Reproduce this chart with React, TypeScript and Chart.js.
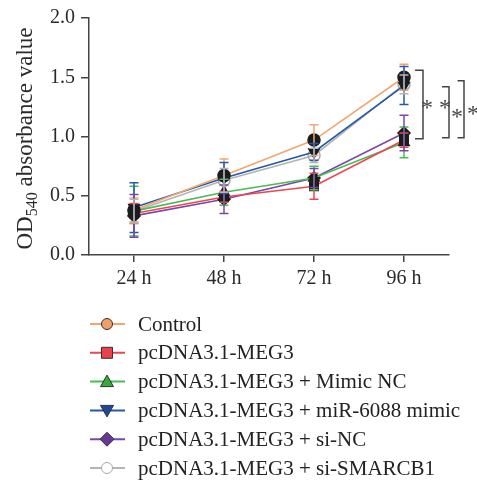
import React, { useEffect, useRef } from "react";
import { Chart, registerables } from "chart.js";

Chart.register(...registerables);

const categories = ["24 h", "48 h", "72 h", "96 h"];
const seriesNames = [
  "Control",
  "pcDNA3.1-MEG3",
  "pcDNA3.1-MEG3 + Mimic NC",
  "pcDNA3.1-MEG3 + miR-6088 mimic",
  "pcDNA3.1-MEG3 + si-NC",
  "pcDNA3.1-MEG3 + si-SMARCB1",
];
const controlValues = [0.38, 0.67, 0.97, 1.5];
const controlErr = [0.1, 0.14, 0.13, 0.11];
const meg3Values = [0.35, 0.49, 0.58, 0.97];
const meg3Err = [0.085, 0.045, 0.11, 0.06];
const mimicNcValues = [0.37, 0.53, 0.65, 0.95];
const mimicNcErr = [0.21, 0.11, 0.1, 0.13];
const mirValues = [0.4, 0.65, 0.87, 1.43];
const mirErr = [0.21, 0.13, 0.07, 0.16];
const siNcValues = [0.33, 0.47, 0.65, 1.03];
const siNcErr = [0.18, 0.12, 0.08, 0.15];
const siSmarcValues = [0.37, 0.63, 0.84, 1.44];
const siSmarcErr = [0.1, 0.1, 0.06, 0.08];
const yTicks = [0, 0.5, 1.0, 1.5, 2.0];
// significance brackets: [top value, bottom value, label]
const brackets: [number, number, string][] = [
  [1.56, 0.98, "* *"],
  [1.42, 0.99, "*"],
  [1.47, 0.99, "*"],
];

const lineColors = ["#F4A66F", "#EE4650", "#48BD55", "#2659AA", "#7A48AC", "#B4B4B4"];
const legendFills = ["#EFA063", "#E8434C", "#37A840", "#1F4994", "#673897", "#FFFFFF"];
const pointStyles = ["circle", "rect", "triangle", "triangle", "rectRot", "circle"];
const pointRotations = [0, 0, 0, 180, 0, 0];
const allValues = [controlValues, meg3Values, mimicNcValues, mirValues, siNcValues, siSmarcValues];
const allErrs = [controlErr, meg3Err, mimicNcErr, mirErr, siNcErr, siSmarcErr];

const SERIF = '"Liberation Serif", "Times New Roman", serif';

function drawMarker(ctx: CanvasRenderingContext2D, i: number, x: number, y: number) {
  ctx.save();
  ctx.fillStyle = legendFills[i];
  ctx.strokeStyle = i === 5 ? "#A8A8A8" : "#333333";
  ctx.lineWidth = 1;
  ctx.beginPath();
  const r = 5.5;
  if (i === 0 || i === 5) {
    ctx.arc(x, y, r, 0, Math.PI * 2);
  } else if (i === 1) {
    ctx.rect(x - 5.5, y - 5.5, 11, 11);
  } else if (i === 2) {
    ctx.moveTo(x, y - 6.5);
    ctx.lineTo(x + 6.5, y + 5);
    ctx.lineTo(x - 6.5, y + 5);
    ctx.closePath();
  } else if (i === 3) {
    ctx.moveTo(x, y + 6.5);
    ctx.lineTo(x + 6.5, y - 5);
    ctx.lineTo(x - 6.5, y - 5);
    ctx.closePath();
  } else if (i === 4) {
    ctx.moveTo(x, y - 7);
    ctx.lineTo(x + 7, y);
    ctx.lineTo(x, y + 7);
    ctx.lineTo(x - 7, y);
    ctx.closePath();
  }
  ctx.fill();
  ctx.stroke();
  ctx.restore();
}

const customPlugin = {
  id: "custom",
  afterDatasetsDraw(chart: any) {
    const ctx: CanvasRenderingContext2D = chart.ctx;
    const xs = chart.scales.x;
    const ys = chart.scales.y;
    ctx.save();
    // error bars
    for (let s = 0; s < allValues.length; s++) {
      ctx.strokeStyle = lineColors[s];
      ctx.lineWidth = 1.5;
      for (let k = 0; k < categories.length; k++) {
        const x = xs.getPixelForValue(k);
        const yt = ys.getPixelForValue(allValues[s][k] + allErrs[s][k]);
        const yb = ys.getPixelForValue(allValues[s][k] - allErrs[s][k]);
        ctx.beginPath();
        ctx.moveTo(x, yt);
        ctx.lineTo(x, yb);
        ctx.moveTo(x - 4.5, yt);
        ctx.lineTo(x + 4.5, yt);
        ctx.moveTo(x - 4.5, yb);
        ctx.lineTo(x + 4.5, yb);
        ctx.stroke();
      }
    }
    ctx.restore();
  },
  afterDraw(chart: any) {
    const ctx: CanvasRenderingContext2D = chart.ctx;
    const xs = chart.scales.x;
    const ys = chart.scales.y;
    const area = chart.chartArea;
    ctx.save();
    // brackets
    const lastX = xs.getPixelForValue(categories.length - 1);
    const offsets = [
      [11, 19, 32],
      [38, 45, 53],
      [53.5, 60, 69],
    ];
    ctx.strokeStyle = "#444444";
    ctx.fillStyle = "#444444";
    ctx.lineWidth = 1.5;
    brackets.forEach((b, i) => {
      const [x0, x1, xt] = offsets[i];
      const yt = ys.getPixelForValue(b[0]);
      const yb = ys.getPixelForValue(b[1]);
      ctx.beginPath();
      ctx.moveTo(lastX + x0, yt);
      ctx.lineTo(lastX + x1, yt);
      ctx.lineTo(lastX + x1, yb);
      ctx.lineTo(lastX + x0, yb);
      ctx.stroke();
      ctx.font = `24px ${SERIF}`;
      ctx.textAlign = "center";
      ctx.textBaseline = "middle";
      const yc = i === 0 ? (yt + yb) / 2 + 4 : (yt + yb) / 2 + 5;
      ctx.fillText(b[2], lastX + xt, yc);
    });

    // y-axis title with subscript
    ctx.save();
    ctx.translate(area.left - 57, (area.top + area.bottom) / 2 + 2);
    ctx.rotate(-Math.PI / 2);
    ctx.fillStyle = "#2a2a2a";
    ctx.textBaseline = "alphabetic";
    ctx.textAlign = "left";
    const mainFont = `23px ${SERIF}`;
    const subFont = `16px ${SERIF}`;
    ctx.font = mainFont;
    const w1 = ctx.measureText("OD").width;
    const w3 = ctx.measureText(" absorbance value").width;
    ctx.font = subFont;
    const w2 = ctx.measureText("540").width;
    let px = -(w1 + w2 + w3) / 2;
    ctx.font = mainFont;
    ctx.fillText("OD", px, 0);
    px += w1;
    ctx.font = subFont;
    ctx.fillText("540", px, 5);
    px += w2;
    ctx.font = mainFont;
    ctx.fillText(" absorbance value", px, 0);
    ctx.restore();

    // legend
    const legendTop = area.bottom + 69;
    const rowH = 28.8;
    const lx0 = area.left + 1;
    const lx1 = area.left + 36;
    const mx = area.left + 18;
    const tx = area.left + 49;
    seriesNames.forEach((name, i) => {
      const y = legendTop + i * rowH;
      ctx.strokeStyle = lineColors[i];
      ctx.lineWidth = 2;
      ctx.beginPath();
      ctx.moveTo(lx0, y);
      ctx.lineTo(lx1, y);
      ctx.stroke();
      drawMarker(ctx, i, mx, y);
      ctx.fillStyle = "#222222";
      ctx.font = `21px ${SERIF}`;
      ctx.textAlign = "left";
      ctx.textBaseline = "middle";
      ctx.fillText(name, tx, y + 1);
    });
    ctx.restore();
  },
};

export default function App() {
  const ref = useRef<HTMLCanvasElement | null>(null);
  useEffect(() => {
    if (!ref.current) return;
    const datasets = allValues.map((vals, i) => ({
      label: seriesNames[i],
      data: vals,
      borderColor: lineColors[i],
      backgroundColor: lineColors[i],
      borderWidth: 1.6,
      tension: 0,
      pointStyle: pointStyles[i] as any,
      rotation: pointRotations[i],
      pointRadius: 6,
      pointBackgroundColor: i === 5 ? "rgba(255,255,255,0)" : "#1c1c1c",
      pointBorderColor: i === 5 ? "#A8A8A8" : "#1c1c1c",
      pointBorderWidth: 1.5,
    }));
    const chart = new Chart(ref.current, {
      type: "line",
      data: { labels: categories, datasets },
      options: {
        animation: false,
        responsive: false,
        maintainAspectRatio: false,
        layout: { padding: { top: 16, right: 28, left: 0, bottom: 0 } },
        plugins: { legend: { display: false }, tooltip: { enabled: false } },
        scales: {
          x: {
            type: "category",
            offset: true,
            grid: { display: true, drawOnChartArea: false, drawTicks: true, tickLength: 7, color: "#444444", lineWidth: 1.5 },
            border: { display: true, color: "#444444", width: 1.5 },
            ticks: { font: { family: SERIF, size: 20 }, color: "#2a2a2a", padding: 5 },
            afterFit: (scale: any) => {
              scale.height = 228;
            },
          },
          y: {
            min: 0,
            max: 2,
            afterBuildTicks: (scale: any) => {
              scale.ticks = yTicks.map((v) => ({ value: v }));
            },
            grid: { display: true, drawOnChartArea: false, drawTicks: true, tickLength: 8, color: "#444444", lineWidth: 1.5 },
            border: { display: true, color: "#444444", width: 1.5 },
            ticks: {
              font: { family: SERIF, size: 20 },
              color: "#2a2a2a",
              padding: 6,
              callback: (v: any) => Number(v).toFixed(1),
            },
            afterFit: (scale: any) => {
              scale.width = 89;
            },
          },
        },
      },
      plugins: [customPlugin],
    });
    return () => chart.destroy();
  }, []);
  return (
    <div style={{ position: "fixed", left: 0, top: 0, width: 477, height: 483, background: "#fff" }}>
      <canvas ref={ref} width={477} height={483} style={{ width: 477, height: 483, display: "block" }} />
    </div>
  );
}
